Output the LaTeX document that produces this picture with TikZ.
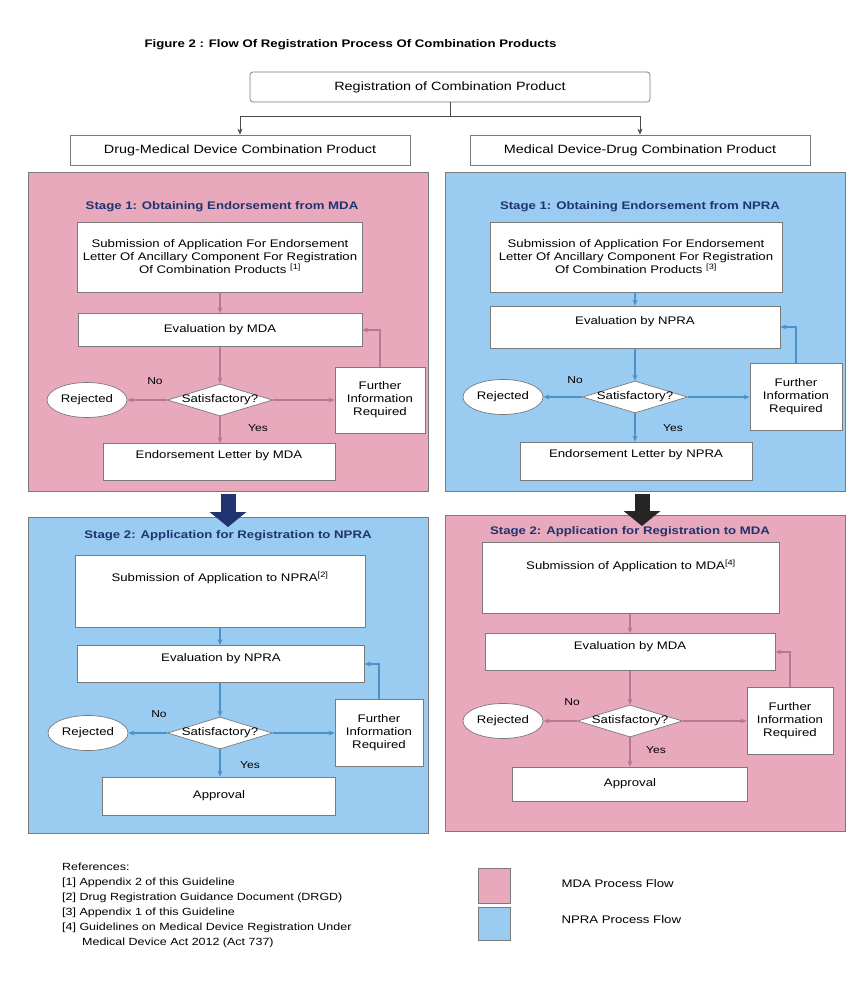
\documentclass[tikz,border=0pt]{standalone}
\usepackage{fontspec}
\setmainfont{Liberation Sans}[FakeStretch=1.2]
\usetikzlibrary{shapes.geometric,arrows.meta,calc}
\definecolor{mdapink}{HTML}{E8A9BD}
\definecolor{nprablue}{HTML}{99CCF0}
\definecolor{navytxt}{HTML}{1F3470}
\definecolor{pinkline}{HTML}{B87890}
\definecolor{blueline}{HTML}{5090C8}
\definecolor{bordergray}{HTML}{7A7A7A}
\begin{document}
\begin{tikzpicture}[x=1pt,y=-1pt,
  font=\fontsize{11}{13}\selectfont,
  box/.style={draw=bordergray, fill=white, line width=0.7pt, inner sep=2pt, align=center},
  panelpink/.style={draw=bordergray, fill=mdapink, line width=1pt},
  panelblue/.style={draw=bordergray, fill=nprablue, line width=1pt},
  stagetitle/.style={font=\fontsize{11}{13}\selectfont\bfseries, text=navytxt},
  dia/.style={diamond, draw=bordergray, fill=white, line width=0.7pt, minimum width=105pt, minimum height=32pt, inner sep=0pt},
  rej/.style={ellipse, draw=bordergray, fill=white, line width=0.7pt, minimum width=80pt, minimum height=35pt, inner sep=0pt},
  lab/.style={font=\fontsize{10}{12}\selectfont},
  conn/.style={-{Stealth[length=6pt,width=5pt]}, line width=1.4pt},
  plain/.style={line width=1pt},
  bigarr/.style={line width=15pt, -{Triangle[length=15pt,width=36pt]}},
]
\useasboundingbox (0,0) rectangle (867,1003);

% Title
\node[anchor=west, font=\fontsize{11}{13}\selectfont\bfseries] (title) at (141,45) {Figure 2 : Flow Of Registration Process Of Combination Products};

% Top boxes
\node[box, rounded corners=3pt, minimum width=400pt, minimum height=30pt, font=\fontsize{12}{14}\selectfont] (top) at (450,87) {Registration of Combination Product};
\node[box, minimum width=340pt, minimum height=30pt, font=\fontsize{12}{14}\selectfont] (catL) at (240,150) {Drug-Medical Device Combination Product};
\node[box, minimum width=340pt, minimum height=30pt, font=\fontsize{12}{14}\selectfont] (catR) at (640,150) {Medical Device-Drug Combination Product};
\coordinate (j) at (450,117);
\draw[plain, bordergray!60!black] (top.south) -- (j);
\draw[conn, line width=1pt, bordergray!60!black] (j) -| (catL.north);
\draw[conn, line width=1pt, bordergray!60!black] (j) -| (catR.north);

% Panels
\node[panelpink, minimum width=400pt, minimum height=318pt] (p1) at (228,332) {};
\node[panelblue, minimum width=400pt, minimum height=318pt] (p2) at (645,332) {};
\node[panelblue, minimum width=400pt, minimum height=316pt] (p3) at (228,675) {};
\node[panelpink, minimum width=400pt, minimum height=316pt] (p4) at (645,673) {};

% Big arrows
\coordinate (ba1) at (228,494);
\coordinate (ba1e) at (228,527);
\coordinate (ba2) at (642,494);
\coordinate (ba2e) at (642,526);
\draw[bigarr, navytxt] (ba1) -- (ba1e);
\draw[bigarr, black!85] (ba2) -- (ba2e);

% ---------- Stage 1 MDA (top left) ----------
\node[stagetitle] (t1) at (222,207) {Stage 1: Obtaining Endorsement from MDA};
\node[box, minimum width=285pt, minimum height=70pt] (sub1) at (220,257) {Submission of Application For Endorsement\\Letter Of Ancillary Component For Registration\\Of Combination Products \textsuperscript{[1]}};
\node[box, minimum width=284pt, minimum height=33pt] (ev1) at (220,330) {Evaluation by MDA};
\node[dia, label={center:Satisfactory?}] (d1) at (220,400) {};
\node[rej] (r1) at (87,400) {Rejected};
\node[box, minimum width=90pt, minimum height=66pt] (fi1) at (380,400) {Further\\Information\\Required};
\node[box, minimum width=232pt, minimum height=37pt, label={[anchor=north, yshift=-4pt]north:Endorsement Letter by MDA}] (en1) at (219,462) {};
\draw[conn, pinkline] (sub1.south -| ev1.north) -- (ev1.north);
\draw[conn, pinkline] (ev1.south) -- (d1.north);
\draw[conn, pinkline] (d1.west) -- (r1.east);
\draw[conn, pinkline] (d1.east) -- (fi1.west);
\draw[conn, pinkline] (fi1.north) |- (ev1.east);
\draw[conn, pinkline] (d1.south) -- (d1.south |- en1.north);
\node[lab] (no1) at (155,381) {No};
\node[lab] (yes1) at (258,428) {Yes};

% ---------- Stage 1 NPRA (top right) ----------
\node[stagetitle] (t2) at (640,207) {Stage 1: Obtaining Endorsement from NPRA};
\node[box, minimum width=292pt, minimum height=70pt] (sub2) at (636,257) {Submission of Application For Endorsement\\Letter Of Ancillary Component For Registration\\Of Combination Products \textsuperscript{[3]}};
\node[box, minimum width=290pt, minimum height=42pt, label={[anchor=north, yshift=-7pt]north:Evaluation by NPRA}] (ev2) at (635,327) {};
\node[dia, label={center:Satisfactory?}] (d2) at (635,397) {};
\node[rej] (r2) at (503,397) {Rejected};
\node[box, minimum width=92pt, minimum height=67pt] (fi2) at (796,397) {Further\\Information\\Required};
\node[box, minimum width=232pt, minimum height=38pt, label={[anchor=north, yshift=-4pt]north:Endorsement Letter by NPRA}] (en2) at (636,461) {};
\draw[conn, blueline] (sub2.south -| ev2.north) -- (ev2.north);
\draw[conn, blueline] (ev2.south -| d2.north) -- (d2.north);
\draw[conn, blueline] (d2.west) -- (r2.east);
\draw[conn, blueline] (d2.east) -- (fi2.west);
\draw[conn, blueline] (fi2.north) |- (ev2.east);
\draw[conn, blueline] (d2.south) -- (d2.south |- en2.north);
\node[lab] (no2) at (575,380) {No};
\node[lab] (yes2) at (673,428) {Yes};

% ---------- Stage 2 NPRA (bottom left) ----------
\node[stagetitle] (t3) at (228,536) {Stage 2: Application for Registration to NPRA};
\node[box, minimum width=290pt, minimum height=72pt, label={[anchor=north, yshift=-14pt]north:Submission of Application to NPRA\textsuperscript{[2]}}] (sub3) at (220,591) {};
\node[box, minimum width=287pt, minimum height=37pt, label={[anchor=north, yshift=-5pt]north:Evaluation by NPRA}] (ev3) at (221,664) {};
\node[dia, label={center:Satisfactory?}] (d3) at (220,733) {};
\node[rej] (r3) at (88,733) {Rejected};
\node[box, minimum width=88pt, minimum height=67pt] (fi3) at (379,733) {Further\\Information\\Required};
\node[box, minimum width=233pt, minimum height=38pt] (ap3) at (219,796) {Approval};
\draw[conn, blueline] (sub3.south -| d3.north) -- (ev3.north -| d3.north);
\draw[conn, blueline] (ev3.south -| d3.north) -- (d3.north);
\draw[conn, blueline] (d3.west) -- (r3.east);
\draw[conn, blueline] (d3.east) -- (fi3.west);
\draw[conn, blueline] (fi3.north) |- (ev3.east);
\draw[conn, blueline] (d3.south) -- (d3.south |- ap3.north);
\node[lab] (no3) at (159,714) {No};
\node[lab] (yes3) at (250,765) {Yes};

% ---------- Stage 2 MDA (bottom right) ----------
\node[stagetitle] (t4) at (630,532) {Stage 2: Application for Registration to MDA};
\node[box, minimum width=297pt, minimum height=71pt, label={[anchor=north, yshift=-14pt]north:Submission of Application to MDA\textsuperscript{[4]}}] (sub4) at (631,578) {};
\node[box, minimum width=290pt, minimum height=37pt, label={[anchor=north, yshift=-5pt]north:Evaluation by MDA}] (ev4) at (630,652) {};
\node[dia, label={center:Satisfactory?}] (d4) at (630,721) {};
\node[rej] (r4) at (503,721) {Rejected};
\node[box, minimum width=86pt, minimum height=67pt] (fi4) at (790,721) {Further\\Information\\Required};
\node[box, minimum width=235pt, minimum height=34pt] (ap4) at (630,784) {Approval};
\draw[conn, pinkline] (sub4.south -| d4.north) -- (ev4.north -| d4.north);
\draw[conn, pinkline] (ev4.south -| d4.north) -- (d4.north);
\draw[conn, pinkline] (d4.west) -- (r4.east);
\draw[conn, pinkline] (d4.east) -- (fi4.west);
\draw[conn, pinkline] (fi4.north) |- (ev4.east);
\draw[conn, pinkline] (d4.south) -- (d4.south |- ap4.north);
\node[lab] (no4) at (572,702) {No};
\node[lab] (yes4) at (656,750) {Yes};

% ---------- References ----------
\node[anchor=north west, align=left, inner sep=0pt, font=\fontsize{10.4}{15}\selectfont] (refs) at (62,863) {References:\\{}%
[1] Appendix 2 of this Guideline\\{}%
[2] Drug Registration Guidance Document (DRGD)\\{}%
[3] Appendix 1 of this Guideline\\{}%
[4] Guidelines on Medical Device Registration Under\\{}%
\hspace*{20pt}Medical Device Act 2012 (Act 737)};

% ---------- Legend ----------
\node[draw=bordergray, fill=mdapink, line width=0.8pt, minimum width=32pt, minimum height=35pt] (lg1) at (494,886) {};
\node[draw=bordergray, fill=nprablue, line width=0.8pt, minimum width=32pt, minimum height=33pt] (lg2) at (494,924) {};
\node[anchor=west, font=\fontsize{11}{13}\selectfont] (lt1) at (558,884) {MDA Process Flow};
\node[anchor=west, font=\fontsize{11}{13}\selectfont] (lt2) at (558,920) {NPRA Process Flow};
\end{tikzpicture}
\end{document}
